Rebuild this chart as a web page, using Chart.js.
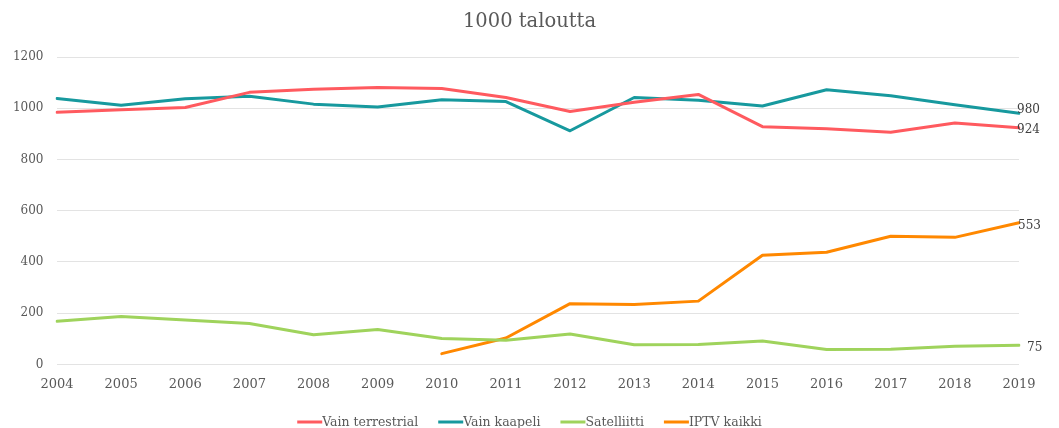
<!DOCTYPE html>
<html>
<head>
<meta charset="utf-8">
<script src="https://cdn.jsdelivr.net/npm/chart.js@4/dist/chart.umd.min.js"></script>
<style>
  html, body { margin: 0; padding: 0; background: #fff; overflow: hidden; }
  #wrap { position: relative; width: 1059px; height: 428px; }
</style>
</head>
<body>
<div id="wrap"><canvas id="c"></canvas></div>
<script>
const years = ["2004","2005","2006","2007","2008","2009","2010","2011","2012","2013","2014","2015","2016","2017","2018","2019"];
const vainTerrestrial = [984, 994, 1003, 1062, 1074, 1081, 1077, 1042, 987, 1023, 1054, 928, 920, 906, 942, 924];
const vainKaapeli     = [1038, 1012, 1037, 1047, 1016, 1005, 1033, 1026, 912, 1042, 1031, 1009, 1072, 1049, 1014, 980];
const satelliitti     = [168, 187, 173, 160, 116, 136, 101, 94, 119, 77, 78, 91, 58, 59, 71, 75];
const iptvKaikki      = [null, null, null, null, null, null, 42, 103, 237, 234, 247, 426, 438, 500, 496, 553];
const yTicks = [0, 200, 400, 600, 800, 1000, 1200];
const chartTitle = '1000 taloutta';

const FONT = "'DejaVu Serif', 'Liberation Serif', serif";
const GREY = "#595959";

const lastLabels = {
  id: 'lastLabels',
  afterDatasetsDraw(chart) {
    const ctx = chart.ctx;
    ctx.save();
    ctx.font = "12px " + FONT;
    ctx.fillStyle = "#404040";
    ctx.textAlign = "left";
    ctx.textBaseline = "middle";
    chart.data.datasets.forEach((ds, i) => {
      const meta = chart.getDatasetMeta(i);
      const n = ds.data.length - 1;
      const pt = meta.data[n];
      ctx.fillText(String(ds.data[n]), pt.x + (ds.labelDx || 0), pt.y + (ds.labelDy || 0));
    });
    ctx.restore();
  }
};

const titleAndLegend = {
  id: 'titleAndLegend',
  afterDraw(chart) {
    const ctx = chart.ctx;
    ctx.save();
    ctx.font = "19.5px " + FONT;
    ctx.fillStyle = GREY;
    ctx.textAlign = "center";
    ctx.textBaseline = "middle";
    ctx.fillText(chartTitle, chart.width / 2, 22);
    const lineW = 25, gap = 20, yc = 423;
    ctx.font = "12.5px " + FONT;
    ctx.textAlign = "left";
    const items = chart.data.datasets.map(ds => ({ text: ds.label, color: ds.borderColor, w: ctx.measureText(ds.label).width }));
    const total = items.reduce((s, it) => s + lineW + it.w, 0) + gap * (items.length - 1);
    let x = (chart.width - total) / 2;
    items.forEach(it => {
      ctx.strokeStyle = it.color;
      ctx.lineWidth = 3;
      ctx.beginPath();
      ctx.moveTo(x, yc - 1);
      ctx.lineTo(x + lineW, yc - 1);
      ctx.stroke();
      ctx.fillStyle = GREY;
      ctx.fillText(it.text, x + lineW, yc);
      x += lineW + it.w + gap;
    });
    ctx.restore();
  }
};

new Chart(document.getElementById('c'), {
  type: 'line',
  data: {
    labels: years,
    datasets: [
      { label: 'Vain terrestrial', data: vainTerrestrial, borderColor: '#ff5a5f', backgroundColor: '#ff5a5f', labelDx: -2, labelDy: 2 },
      { label: 'Vain kaapeli', data: vainKaapeli, borderColor: '#17999e', backgroundColor: '#17999e', labelDx: -2, labelDy: -3 },
      { label: 'Satelliitti', data: satelliitti, borderColor: '#9fd35c', backgroundColor: '#9fd35c', labelDx: 8, labelDy: 3 },
      { label: 'IPTV kaikki', data: iptvKaikki, borderColor: '#ff8800', backgroundColor: '#ff8800', labelDx: -1, labelDy: 3 }
    ]
  },
  options: {
    responsive: true,
    maintainAspectRatio: false,
    animation: false,
    elements: {
      line: { borderWidth: 3, tension: 0, borderCapStyle: 'round', borderJoinStyle: 'round' },
      point: { radius: 0, hoverRadius: 0 }
    },
    layout: { padding: { left: 0, right: 40, top: 57, bottom: 24 } },
    plugins: {
      title: { display: false },
      legend: { display: false },
      tooltip: { enabled: false }
    },
    scales: {
      x: {
        offset: false,
        grid: { display: false, drawTicks: false },
        border: { display: false },
        ticks: { color: GREY, font: { family: FONT, size: 13 }, padding: 12, maxRotation: 0, autoSkip: false }
      },
      y: {
        min: 0,
        max: 1200,
        afterBuildTicks(axis) { axis.ticks = yTicks.map(v => ({ value: v })); },
        afterFit(axis) { axis.width = 57; },
        grid: { color: '#e3e3e3', lineWidth: 1, drawTicks: false },
        border: { display: false },
        ticks: { color: GREY, font: { family: FONT, size: 12 }, padding: 13.5, callback: v => String(v) }
      }
    }
  },
  plugins: [lastLabels, titleAndLegend]
});
</script>
</body>
</html>
